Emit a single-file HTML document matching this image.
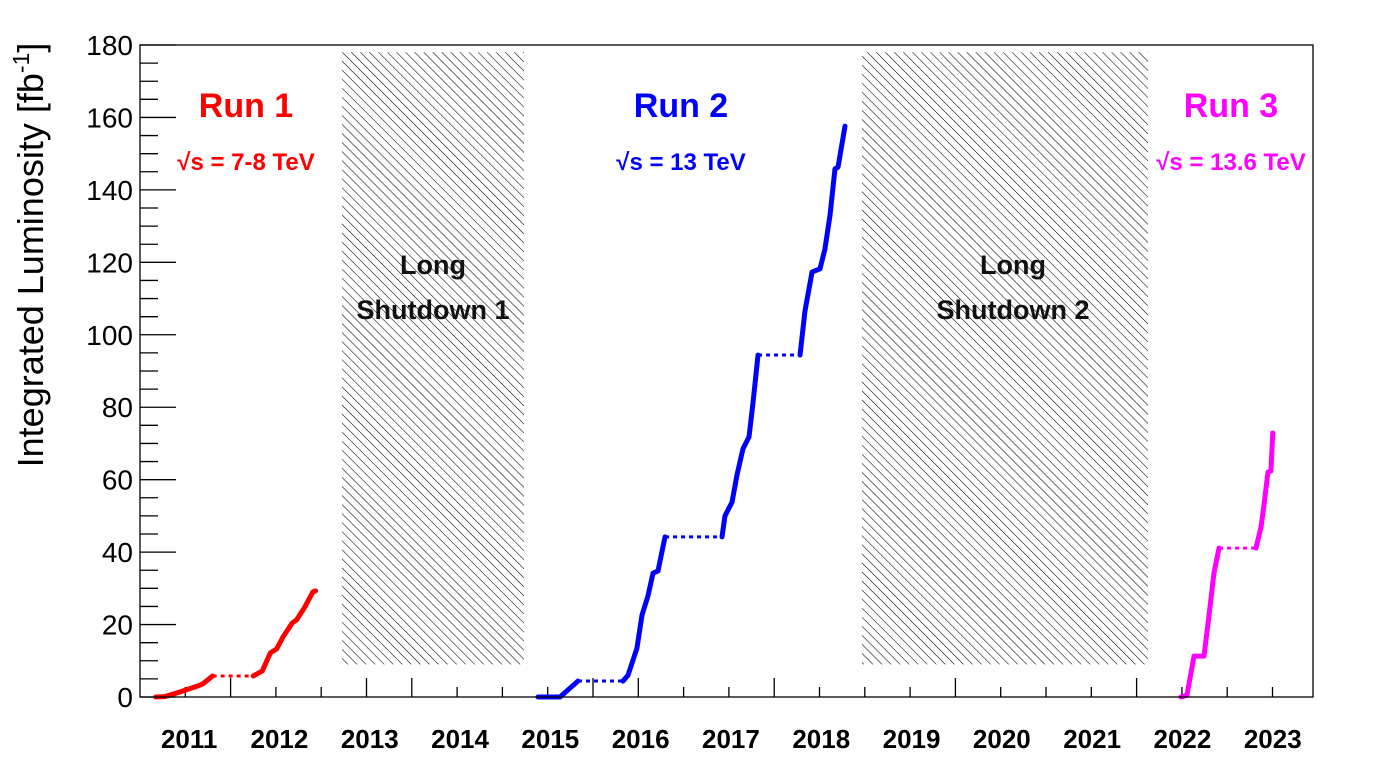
<!DOCTYPE html>
<html><head><meta charset="utf-8"><style>
html,body{margin:0;padding:0;background:#fff;}
svg{display:block;font-family:"Liberation Sans",Arial,sans-serif;}
</style></head><body>
<svg id="chart" width="1398" height="774" viewBox="0 0 1398 774" xmlns="http://www.w3.org/2000/svg">
<defs>
<pattern id="hatch" patternUnits="userSpaceOnUse" width="6.4" height="6.4" patternTransform="rotate(-45)">
<line x1="0" y1="0" x2="0" y2="6.4" stroke="#000" stroke-width="1.1"/>
</pattern>
</defs>
<rect x="0" y="0" width="1398" height="774" fill="#fff"/>
<g id="hatches"></g>
<g id="ticks"></g>
<g id="series"></g>
<rect x="140" y="45" width="1173" height="652" fill="none" stroke="#000" stroke-width="1.3"/>
<g id="labels"></g>
<text transform="translate(43,255) rotate(-90)" text-anchor="middle" font-size="36">Integrated Luminosity [fb<tspan dy="-14" font-size="23">-1</tspan><tspan dy="14">]</tspan></text>
<g fill="#ff0000" font-weight="bold" text-anchor="middle">
<text x="246" y="117" font-size="34">Run 1</text>
<text x="246" y="170" font-size="24">√s = 7-8 TeV</text>
</g>
<g fill="#0000ff" font-weight="bold" text-anchor="middle">
<text x="681" y="117" font-size="34">Run 2</text>
<text x="681" y="170" font-size="24">√s = 13 TeV</text>
</g>
<g fill="#ff00ff" font-weight="bold" text-anchor="middle">
<text x="1231" y="117" font-size="34">Run 3</text>
<text x="1231" y="170" font-size="24">√s = 13.6 TeV</text>
</g>
<g fill="#111" font-weight="bold" text-anchor="middle" font-size="27">
<text x="433" y="274">Long</text>
<text x="433" y="319">Shutdown 1</text>
</g>
<g fill="#111" font-weight="bold" text-anchor="middle" font-size="27">
<text x="1013" y="274">Long</text>
<text x="1013" y="319">Shutdown 2</text>
</g>
</svg>
<script>
const yTicks = [0,20,40,60,80,100,120,140,160,180];
const xYears = [2011,2012,2013,2014,2015,2016,2017,2018,2019,2020,2021,2022,2023];
const shutdownStart = [2013.193, 2018.951];
const shutdownEnd = [2015.208, 2022.118];
const shutdownTop = 178;
const shutdownBottom = 9;
const run1T = [2011.13,2011.23,2011.40,2011.59,2011.65,2011.76,2012.21,2012.31,2012.40,2012.47,2012.54,2012.64,2012.69,2012.78,2012.87,2012.90];
const run1V = [0,0.1,1.4,3.0,3.6,5.8,5.8,7.2,12.2,13.3,16.6,20.4,21.3,24.8,29.0,29.3];
const run1Gaps = [5];
const run2T = [2015.363,2015.607,2015.806,2016.304,2016.360,2016.459,2016.515,2016.581,2016.637,2016.692,2016.770,2017.401,2017.434,2017.512,2017.567,2017.633,2017.700,2017.744,2017.800,2018.265,2018.320,2018.398,2018.486,2018.541,2018.597,2018.652,2018.686,2018.763];
const run2V = [0,0,4.4,4.4,6,13.5,22.6,27.9,34.2,34.8,44.2,44.2,50,53.8,61.3,68.5,71.8,81.2,94.4,94.4,106.6,117.3,118.2,123.7,133,145.8,146.3,157.6];
const run2Gaps = [2,10,18];
const run3T = [2022.484,2022.550,2022.628,2022.739,2022.805,2022.849,2022.905,2023.314,2023.370,2023.403,2023.447,2023.480,2023.500];
const run3V = [0,0.5,11.3,11.3,24.8,34.2,41.1,41.1,46.9,53,62.1,62.4,72.9];
const run3Gaps = [6];

const NS = "http://www.w3.org/2000/svg";
const X0 = 144, XPY = 90.3, Y0 = 697, YPU = 652/180;
function xs(t){ return X0 + (t-2011)*XPY; }
function ys(v){ return Y0 - v*YPU; }
function mk(tag, attrs, parent){ const e=document.createElementNS(NS,tag); for(const k in attrs) e.setAttribute(k,attrs[k]); parent.appendChild(e); return e; }

const hatches = document.getElementById('hatches');
for(let i=0;i<shutdownStart.length;i++){
  const r = mk('rect',{x:xs(shutdownStart[i]),y:ys(shutdownTop),width:xs(shutdownEnd[i])-xs(shutdownStart[i]),height:ys(shutdownBottom)-ys(shutdownTop),fill:'url(#hatch)'},hatches);
  
  
}

const ticks = document.getElementById('ticks');
const labels = document.getElementById('labels');
yTicks.forEach((v,i)=>{
  const l = mk('line',{x1:140,x2:176,y1:ys(v),y2:ys(v),stroke:'#000','stroke-width':1.3},ticks);
  
  
  if(i<yTicks.length-1){
    for(let m=1;m<4;m++){
      const mv = v + (yTicks[i+1]-v)*m/4;
      const ml = mk('line',{x1:140,x2:158,y1:ys(mv),y2:ys(mv),stroke:'#000','stroke-width':1.3},ticks);
      
      
    }
  }
  const t = mk('text',{x:133,y:ys(v)+10,'text-anchor':'end','font-size':28},labels);
  t.textContent = v;
  
  
});
const tallSet = [2,5,6,10,11,14,18,22];
for(let k=1;k<=25;k++){
  const x = 140 + k*45.3;
  const h = tallSet.includes(k) ? 19 : 10;
  const l = mk('line',{x1:x,x2:x,y1:697,y2:697-h,stroke:'#000','stroke-width':1.3},ticks);
  
  
}
xYears.forEach(yr=>{
  const t = mk('text',{x:xs(yr+0.5),y:748,'text-anchor':'middle','font-size':26,'font-weight':'bold'},labels);
  t.textContent = yr;
  
  
});

const series = document.getElementById('series');
function drawRun(T,V,gaps,color,name){
  const g = mk('g',{},series);
  
  
  let pts = [];
  for(let i=0;i<T.length;i++){
    pts.push(xs(T[i])+','+ys(V[i]));
    if(gaps.includes(i) || i===T.length-1){
      if(pts.length>1){
        const p = mk('polyline',{points:pts.join(' '),fill:'none',stroke:color,'stroke-width':5,'stroke-linejoin':'round','stroke-linecap':'round'},g);
        
        
      }
      if(gaps.includes(i) && i+1<T.length){
        const d = mk('line',{x1:xs(T[i]),y1:ys(V[i]),x2:xs(T[i+1]),y2:ys(V[i+1]),stroke:color,'stroke-width':3,'stroke-dasharray':'4 4'},g);
        
        
      }
      pts = [];
    }
  }
}
drawRun(run1T,run1V,run1Gaps,'#ff0000','run-1-series');
drawRun(run2T,run2V,run2Gaps,'#0000ff','run-2-series');
drawRun(run3T,run3V,run3Gaps,'#ff00ff','run-3-series');
</script>
</body></html>
